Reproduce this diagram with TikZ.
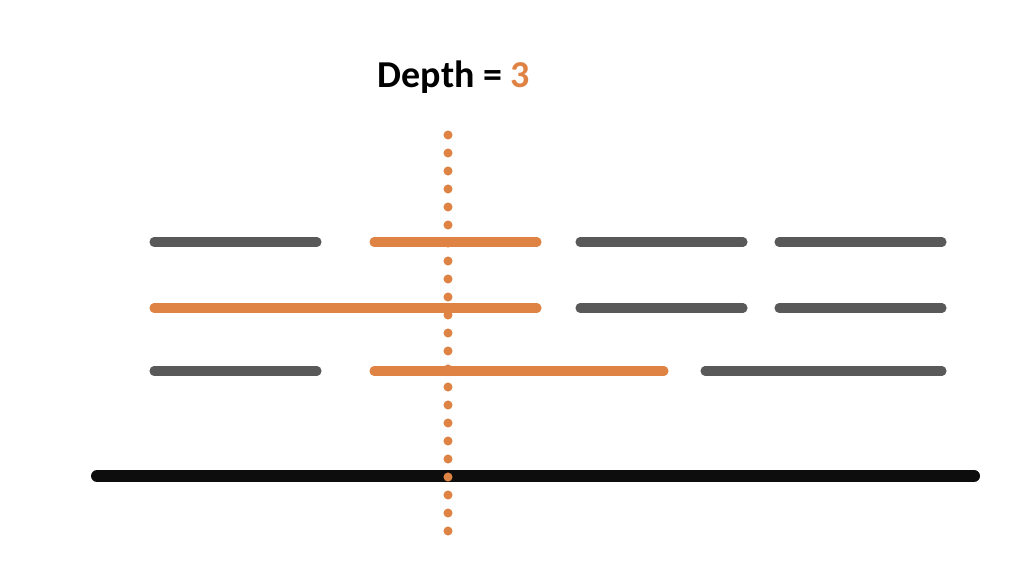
\documentclass[tikz,border=0pt]{standalone}
\usepackage{fontspec}
\setmainfont{Carlito}
\definecolor{hotorange}{RGB}{223,131,69}
\definecolor{coldgray}{RGB}{89,89,89}
\definecolor{axisblack}{RGB}{13,13,13}
\begin{document}
\begin{tikzpicture}[x=0.75pt, y=-0.75pt,
    G/.style={draw=coldgray, line width=6.8pt, line cap=round},
    O/.style={draw=hotorange, line width=6.8pt, line cap=round},
    D/.style={fill=hotorange, draw=none}
  ]
  \useasboundingbox (0,0) rectangle (1030,566);
  \node [font=\bfseries\fontsize{28.5}{34}\selectfont, anchor=base] (title) at (454,88)
    {Depth = \textcolor{hotorange}{3}};
  % baseline
  \draw [axisblack, line width=9pt, line cap=round] (97,476) -- (974,476);
  % depth probe
  \foreach \k in {0,...,22}
    \fill [D] (448,135+18*\k) circle (3.4pt);
  % intervals
  \foreach \a/\b/\y in {154/317/242, 580/743/242, 779/942/242,
                        580/743/308, 779/942/308,
                        154/317/371, 705/942/371}
    \draw [G] (\a,\y) -- (\b,\y);
  \foreach \a/\b/\y in {374/537/242, 154/537/308, 374/664/371}
    \draw [O] (\a,\y) -- (\b,\y);
\end{tikzpicture}
\end{document}
